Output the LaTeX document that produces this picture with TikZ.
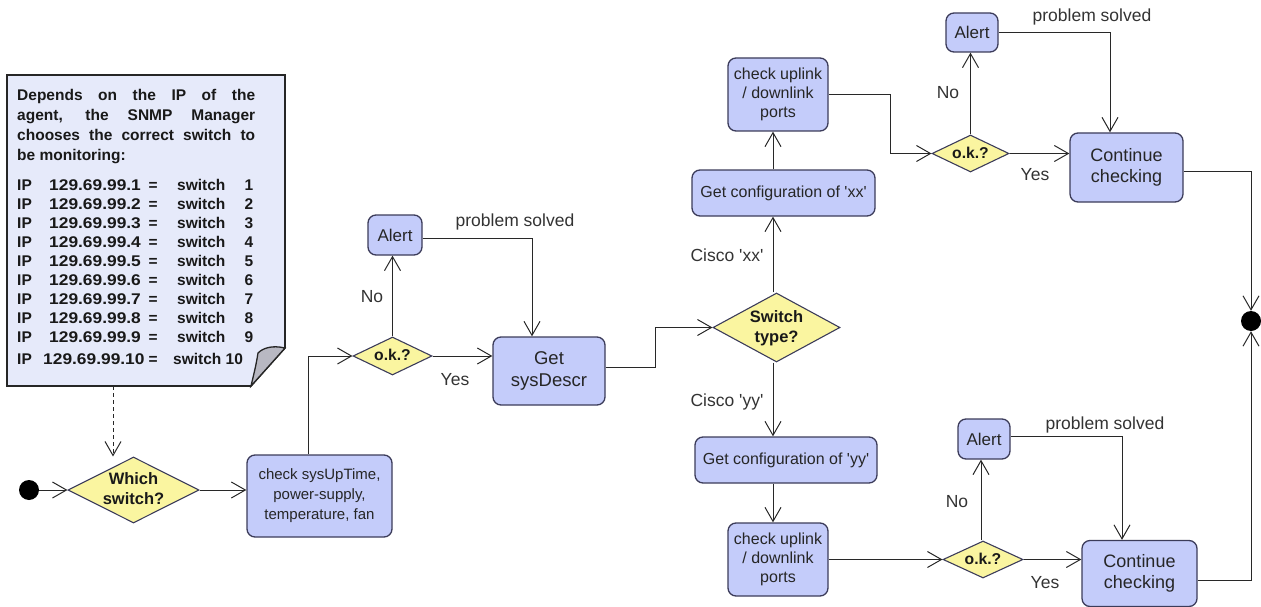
\documentclass[tikz,border=0pt]{standalone}
\usepackage{fontspec}
\usepackage{graphicx}
\setmainfont{Liberation Sans}
\usetikzlibrary{arrows.meta,shapes.geometric}

\definecolor{actfill}{RGB}{196,204,250}
\definecolor{actdraw}{RGB}{60,60,90}
\definecolor{decfill}{RGB}{250,245,160}
\definecolor{notefill}{RGB}{230,234,250}
\definecolor{foldfill}{RGB}{184,184,194}
\definecolor{wirecol}{RGB}{40,40,40}

\newcommand\fsz[2]{\fontsize{#1}{#2}\selectfont}
\newcommand\sq{\textquotesingle}
% text of a decision diamond, kept out of the shape's size computation
\newcommand\dtext[1]{\smash{\makebox[0pt]{\raisebox{-0.3em}{\begin{tabular}{@{}c@{}}#1\end{tabular}}}}}
% one row of the IP table in the note
\newcommand\ipline[2]{\makebox[32pt][l]{IP}\makebox[96pt][l]{\scalebox{1.12}[1]{129.69.99.#1}}\makebox[16pt]{=}\hspace*{16pt}\makebox[50pt][l]{switch}\makebox[26pt][r]{#2}}

\tikzset{
  act/.style={draw=actdraw, fill=actfill, line width=1.3pt, rounded corners=8pt,
              inner sep=0pt, align=center, text=black!85},
  dec/.style={diamond, draw=actdraw, fill=decfill, line width=1.1pt, inner sep=0pt,
              font=\bfseries\fsz{16.5}{20}, text=black!90},
  dot/.style={circle, fill=black, inner sep=0pt, minimum size=20pt},
  wire/.style={draw=wirecol, line width=1pt},
  arr/.style={wire, -{Straight Barb[length=14pt,width=16pt]}},
  lbl/.style={font=\fsz{17.5}{20}, text=black!80, inner sep=0pt},
  notetxt/.style={font=\bfseries\fsz{15.5}{19}, inner sep=0pt, anchor=base west, text=black!90}
}

\begin{document}
\begin{tikzpicture}[x=1pt,y=-1pt]
\useasboundingbox (0,0) rectangle (1261,607);

% ---------- note with the IP table ----------
\draw[fill=notefill, draw=black!85, line width=1.6pt]
  (7,75) -- (285,75) -- (285,348) -- (251,386) -- (7,386) -- cycle;
\draw[fill=foldfill, draw=black!85, line width=1.3pt]
  (285,348) .. controls (272,345) and (263,348) .. (258,353)
  .. controls (256,365) .. (251,386) -- cycle;
\coordinate (noteb) at (113,386);

\node[notetxt] (n1) at (17,100.5) {\makebox[238pt][s]{Depends on the IP of the}};
\node[notetxt] (n2) at (17,120.5) {\makebox[238pt][s]{agent, the SNMP Manager}};
\node[notetxt] (n3) at (17,140.5) {\makebox[238pt][s]{chooses the correct switch to}};
\node[notetxt] (n4) at (17,160.5) {be monitoring:};
\foreach \k in {1,...,9}
  \node[notetxt] (ip\k) at (17,{185+(\k-1)*19+5.5}) {\ipline{\k}{\k}};
\node[notetxt] (ip10) at (17,364.8)
  {\makebox[26pt][l]{IP}\makebox[90pt][l]{\scalebox{1.12}[1]{129.69.99.10}}\hspace*{12pt}\makebox[16pt]{=}\hspace*{12pt}switch 10};

% ---------- nodes ----------
\node[dot] (start) at (29,490) {};
\node[dec, minimum width=131pt, minimum height=66pt] (which) at (133.5,490) {\dtext{Which\\switch?}};
\node[act, minimum width=145pt, minimum height=82pt, font=\fsz{15}{20}] (sysup) at (319.5,496)
  {check sysUpTime,\\power-supply,\\temperature, fan};
\node[dec, minimum width=79pt, minimum height=38pt, font=\bfseries\fsz{15.7}{19}] (ok1) at (392.5,356) {\dtext{o.k.?}};
\node[act, minimum width=54pt, minimum height=40pt, font=\fsz{17}{20}] (alert1) at (395,235) {Alert};
\node[act, minimum width=112pt, minimum height=68pt, font=\fsz{18.5}{22}] (getsys) at (549,371) {Get\\sysDescr};
\node[dec, minimum width=127pt, minimum height=69pt] (sw) at (776.5,327.5) {\dtext{Switch\\type?}};

\node[act, minimum width=183pt, minimum height=46pt, font=\fsz{16}{19}] (cfgxx) at (783.5,193) {Get configuration of \sq xx\sq};
\node[act, minimum width=100pt, minimum height=73pt, font=\fsz{16}{19}] (upxx) at (778,94.5) {check uplink\\/ downlink\\ports};
\node[dec, minimum width=77pt, minimum height=37pt, font=\bfseries\fsz{15.7}{19}] (ok2) at (970.5,153.5) {\dtext{o.k.?}};
\node[act, minimum width=52pt, minimum height=39pt, font=\fsz{17}{20}] (alert2) at (972,32.5) {Alert};
\node[act, minimum width=113pt, minimum height=69pt, font=\fsz{18}{21}] (cont1) at (1126.5,167.5) {Continue\\checking};

\node[act, minimum width=182pt, minimum height=46pt, font=\fsz{16}{19}] (cfgyy) at (786,460) {Get configuration of \sq yy\sq};
\node[act, minimum width=100pt, minimum height=73pt, font=\fsz{16}{19}] (upyy) at (778,559.5) {check uplink\\/ downlink\\ports};
\node[dec, minimum width=80pt, minimum height=37pt, font=\bfseries\fsz{15.7}{19}] (ok3) at (983,559.5) {\dtext{o.k.?}};
\node[act, minimum width=52pt, minimum height=40pt, font=\fsz{17}{20}] (alert3) at (984,439) {Alert};
\node[act, minimum width=115pt, minimum height=66pt, font=\fsz{18}{21}] (cont2) at (1139.5,573.5) {Continue\\checking};

\node[dot] (join) at (1251,321) {};

% ---------- connectors ----------
\draw[arr, dashed, dash pattern=on 4pt off 3pt] (noteb) -- (noteb |- which.north);
\draw[arr] (start.east) -- (which.west);
\draw[arr] (which.east) -- (which.east -| sysup.west);
\draw[arr] ([xshift=-11.5pt]sysup.north) |- (ok1.west);
\draw[arr] (ok1.east) -- (ok1.east -| getsys.west);
\draw[arr] (ok1.north) -- (ok1.north |- alert1.south);
\draw[arr] ([yshift=-3pt]alert1.east) -| ([xshift=-17pt]getsys.north);
\draw[arr] ([yshift=4pt]getsys.east) -- ++(50,0) |- (sw.west);

\draw[arr] ([xshift=-3.5pt]sw.north) -- ([xshift=-3.5pt]sw.north |- cfgxx.south);
\draw[arr] ([xshift=-3.5pt]sw.north |- cfgxx.north) -- ([xshift=-3.5pt]sw.north |- upxx.south);
\draw[arr] (upxx.east) -- ++(62,0) |- (ok2.west);
\draw[arr] (ok2.north) -- (ok2.north |- alert2.south);
\draw[arr] (alert2.east) -| ([xshift=-16.5pt]cont1.north);
\draw[arr] (ok2.east) -- (ok2.east -| cont1.west);
\draw[arr] ([yshift=-3.5pt]cont1.east) -| (join.north);

\draw[arr] ([xshift=-3.5pt]sw.south) -- ([xshift=-3.5pt]sw.south |- cfgyy.north);
\draw[arr] ([xshift=-3.5pt]sw.south |- cfgyy.south) -- ([xshift=-3.5pt]sw.south |- upyy.north);
\draw[arr] (upyy.east) -- (ok3.west);
\draw[arr] ([xshift=-2pt]ok3.north) -- ([xshift=-2pt]ok3.north |- alert3.south);
\draw[arr] ([yshift=3pt]alert3.east) -| ([xshift=-17.5pt]cont2.north);
\draw[arr] (ok3.east) -- (ok3.east -| cont2.west);
\draw[arr] ([yshift=-6.5pt]cont2.east) -| (join.south);

% ---------- connector labels ----------
\node[lbl] (lyes1) at (455,380) {Yes};
\node[lbl] (lno1) at (372,297) {No};
\node[lbl] (lps1) at (515,222) {problem solved};
\node[lbl] (lcx) at (727,255) {Cisco \sq xx\sq};
\node[lbl] (lcy) at (727,402) {Cisco \sq yy\sq};
\node[lbl] (lno2) at (948,93) {No};
\node[lbl] (lps2) at (1092,17) {problem solved};
\node[lbl] (lyes2) at (1035,175) {Yes};
\node[lbl] (lno3) at (957,502) {No};
\node[lbl] (lps3) at (1105,425) {problem solved};
\node[lbl] (lyes3) at (1045,583) {Yes};
\end{tikzpicture}
\end{document}
